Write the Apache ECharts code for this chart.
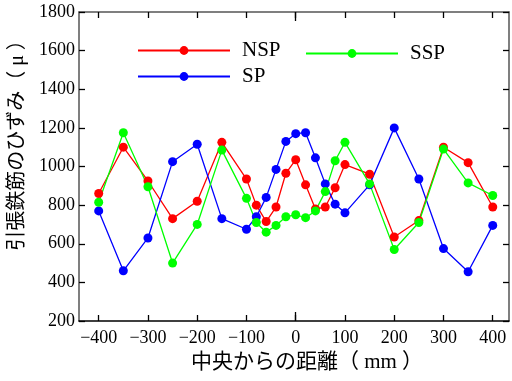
<!DOCTYPE html>
<html>
<head>
<meta charset="utf-8">
<script src="https://cdn.jsdelivr.net/npm/echarts@6/dist/echarts.min.js"></script>
<style>
html, body { margin: 0; padding: 0; background: #fff; }
#chart { width: 512px; height: 381px; }
</style>
</head>
<body>
<div id="chart"></div>
<script>
// 測定位置（中央からの距離 mm）
var distance = [-400, -350, -300, -250, -200, -150, -100, -80, -60, -40, -20, 0, 20, 40, 60, 80, 100, 150, 200, 250, 300, 350, 400];
// 引張鉄筋のひずみ
var nspStrain = [860, 1100, 925, 730, 820, 1125, 935, 800, 715, 790, 965, 1035, 905, 780, 790, 890, 1010, 960, 635, 720, 1100, 1020, 790];
var spStrain = [770, 460, 630, 1025, 1115, 730, 675, 740, 840, 985, 1130, 1170, 1175, 1045, 910, 805, 760, 905, 1200, 935, 575, 455, 695];
var sspStrain = [815, 1175, 895, 500, 700, 1085, 835, 710, 660, 695, 740, 750, 735, 770, 870, 1030, 1125, 910, 570, 710, 1090, 915, 850];
var xTicks = [-400, -300, -200, -100, 0, 100, 200, 300, 400];

var serif = 'Liberation Serif';
var cjk = 'Liberation Serif, Noto Sans CJK JP';

function pairs(ys) {
    var out = [];
    for (var i = 0; i < distance.length; i++) {
        out.push([distance[i], ys[i]]);
    }
    return out;
}

function lineSeries(name, color, ys) {
    return {
        name: name,
        type: 'line',
        data: pairs(ys),
        symbol: 'circle',
        symbolSize: 9,
        lineStyle: { color: color, width: 1.3 },
        itemStyle: { color: color },
        emphasis: { disabled: true }
    };
}

// 枠の上側・右側にも目盛りを付けるための軸
function frameX(pos, ticks, len, showLine) {
    return {
        type: 'value',
        position: pos,
        min: -440,
        max: 433,
        axisLine: { show: showLine, onZero: false, lineStyle: { color: '#555', width: 1.5 } },
        axisTick: { inside: true, length: len, customValues: ticks, lineStyle: { color: '#000', width: 1.3 } },
        axisLabel: { show: false },
        splitLine: { show: false }
    };
}

var chart = echarts.init(document.getElementById('chart'));

var legendText = { fontFamily: serif, fontSize: 21, color: '#000', padding: [0, 0, 0, 7] };

var option = {
    animation: false,
    grid: { left: 79, right: 3, top: 12, bottom: 60 },
    legend: [{
        data: ['NSP', 'SP'],
        orient: 'vertical',
        left: 132,
        top: 35,
        itemWidth: 92,
        itemHeight: 11,
        itemGap: 5,
        textStyle: legendText
    }, {
        data: ['SSP'],
        left: 300,
        top: 38,
        itemWidth: 92,
        itemHeight: 11,
        textStyle: legendText
    }],
    xAxis: [{
        type: 'value',
        position: 'bottom',
        min: -440,
        max: 433,
        name: '中央からの距離（ mm ）',
        nameLocation: 'middle',
        nameGap: 25,
        nameTextStyle: { fontFamily: cjk, fontSize: 21, color: '#000', padding: [0, 0, 0, 26] },
        axisLine: { onZero: false, lineStyle: { color: '#000', width: 1.5 } },
        axisTick: { inside: true, length: 6, customValues: xTicks, lineStyle: { color: '#000', width: 1.3 } },
        axisLabel: {
            customValues: xTicks,
            margin: 8,
            fontFamily: serif,
            fontSize: 18,
            color: '#000',
            formatter: function (v) { return String(v).replace('-', '\u2212'); }
        },
        splitLine: { show: false }
    },
        frameX('top', xTicks, 6, true),
        frameX('bottom', [0], 9, false),   // 0 の目盛りだけ長い
        frameX('top', [0], 9, false)
    ],
    yAxis: [{
        type: 'value',
        position: 'left',
        min: 200,
        max: 1800,
        interval: 200,
        name: '引張鉄筋のひずみ（ μ ）',
        nameLocation: 'middle',
        nameGap: 51,
        nameTextStyle: { fontFamily: cjk, fontSize: 20, color: '#000', padding: [0, 0, 0, 52] },
        axisLine: { onZero: false, lineStyle: { color: '#555', width: 1.5 } },
        axisTick: { inside: true, length: 6, lineStyle: { color: '#000', width: 1.3 } },
        axisLabel: {
            margin: 4,
            fontFamily: serif,
            fontSize: 18,
            color: '#000',
            formatter: function (v) { return String(v); }
        },
        splitLine: { show: false }
    }, {
        type: 'value',
        position: 'right',
        min: 200,
        max: 1800,
        interval: 200,
        axisLine: { onZero: false, lineStyle: { color: '#555', width: 1.5 } },
        axisTick: { inside: true, length: 6, lineStyle: { color: '#000', width: 1.3 } },
        axisLabel: { show: false },
        splitLine: { show: false }
    }],
    series: [
        lineSeries('NSP', '#ff0000', nspStrain),
        lineSeries('SP', '#0000ff', spStrain),
        lineSeries('SSP', '#00ff00', sspStrain)
    ]
};

chart.setOption(option);
</script>
</body>
</html>
